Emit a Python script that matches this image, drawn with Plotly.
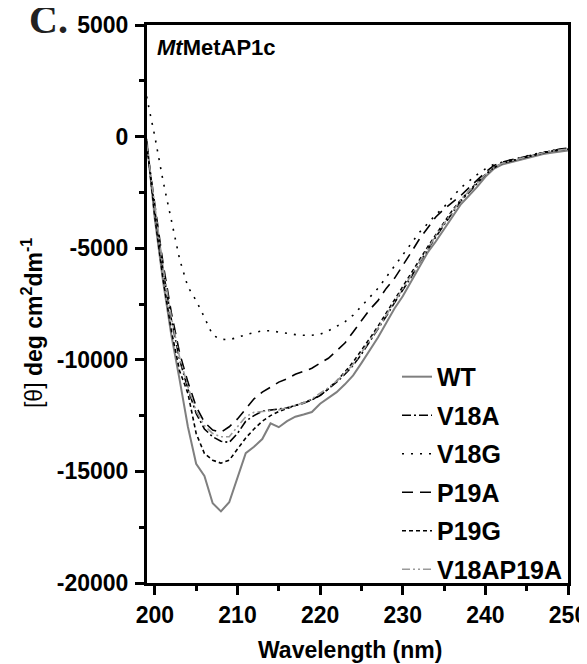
import plotly.graph_objects as go

wavelength = list(range(199, 251))

wt = [-100, -3700, -6500, -8900, -10900, -13000, -14660, -15200, -16430, -16790,
      -16380, -15260, -14180, -13900, -13550, -12850, -13020, -12750, -12550, -12450,
      -12340, -11970, -11700, -11450, -11100, -10700, -10150, -9570, -9000, -8350,
      -7700, -7150, -6500, -5800, -5200, -4700, -4150, -3550, -3050, -2650,
      -2250, -1800, -1450, -1250, -1150, -1050, -950, -850, -780, -720,
      -680, -620]

v18a = [-300, -3300, -6000, -8200, -10000, -11300, -12400, -13100, -13450, -13650,
        -13700, -13300, -12750, -12500, -12300, -12250, -12200, -12150, -12050, -11950,
        -11800, -11600, -11300, -11000, -10650, -10250, -9750, -9200, -8650, -8050,
        -7450, -6900, -6300, -5650, -5050, -4500, -3950, -3400, -2900, -2500,
        -2100, -1700, -1400, -1200, -1100, -1000, -900, -800, -720, -650,
        -600, -560]

v18g = [1800, 0, -2000, -3750, -5500, -6730, -7350, -8100, -8900, -9080,
        -9100, -9000, -8870, -8780, -8700, -8700, -8760, -8820, -8870, -8900,
        -8900, -8850, -8700, -8500, -8300, -8000, -7600, -7200, -6800, -6300,
        -5800, -5300, -4800, -4300, -3900, -3500, -3150, -2700, -2300, -2000,
        -1700, -1450, -1250, -1150, -1050, -970, -880, -780, -700, -620,
        -560, -520]

p19a = [-400, -3000, -5700, -7900, -9700, -11000, -12100, -12800, -13150, -13250,
        -13000, -12650, -12200, -11750, -11450, -11230, -11000, -10850, -10650, -10520,
        -10380, -10150, -9930, -9600, -9250, -8750, -8250, -7750, -7350, -6800,
        -6350, -5800, -5200, -4600, -4100, -3600, -3250, -2950, -2650, -2300,
        -1950, -1600, -1300, -1150, -1050, -970, -880, -780, -700, -620,
        -560, -520]

p19g = [-200, -3600, -6400, -8700, -10500, -11500, -13300, -14200, -14500, -14630,
        -14500, -14000, -13500, -13100, -12750, -12500, -12320, -12180, -12050, -11930,
        -11780, -11600, -11300, -10950, -10550, -10100, -9600, -9050, -8500, -7900,
        -7300, -6700, -6100, -5500, -4950, -4400, -3850, -3300, -2850, -2450,
        -2050, -1700, -1400, -1200, -1100, -1000, -900, -800, -720, -650,
        -600, -560]

v18ap19a = [-300, -3200, -5900, -8100, -9900, -11200, -12300, -12950, -13300, -13450,
            -13450, -13000, -12550, -12350, -12300, -12280, -12250, -12150, -12050, -11930,
            -11750, -11500, -11250, -10950, -10600, -10200, -9700, -9150, -8600, -8000,
            -7400, -6850, -6250, -5600, -5000, -4450, -3900, -3350, -2850, -2450,
            -2050, -1700, -1400, -1200, -1100, -1000, -900, -800, -720, -650,
            -600, -560]

series_names = ["WT", "V18A", "V18G", "P19A", "P19G", "V18AP19A"]

x_ticks = [200, 210, 220, 230, 240, 250]
x_tick_labels = ["200", "210", "220", "230", "240", "250"]
y_ticks = [5000, 0, -5000, -10000, -15000, -20000]
y_tick_labels = ["5000", "0", "-5000", "-10000", "-15000", "-20000"]

styles = [
    dict(color="#7f7f7f", width=2, dash="solid"),
    dict(color="black", width=1.6, dash="9px,3px,2px,3px"),
    dict(color="black", width=1.6, dash="2px,7px"),
    dict(color="black", width=1.6, dash="11px,7px"),
    dict(color="black", width=1.6, dash="4px,3px"),
    dict(color="#9a9a9a", width=1.6, dash="8px,3px,2px,3px,2px,3px"),
]

FONT = "Liberation Sans, Arial, sans-serif"

fig = go.Figure()
for name, ys, st in zip(series_names, [wt, v18a, v18g, p19a, p19g, v18ap19a], styles):
    fig.add_trace(go.Scatter(x=wavelength, y=ys, mode="lines", name=name,
                             legendgroup=name, line=st))

axis_common = dict(
    showline=True, linewidth=3, linecolor="black", mirror=True,
    ticks="outside", ticklen=9, tickwidth=3, tickcolor="black",
    showgrid=False, zeroline=False, automargin=False,
    ticklabeloverflow="allow",
    tickfont=dict(family=FONT, size=23, color="black", weight="bold"),
)

fig.update_xaxes(range=[199.05, 250], tickvals=x_ticks, ticktext=x_tick_labels,
                 minor=dict(ticks="outside", ticklen=5, tickwidth=3, tickcolor="black",
                            dtick=5, tick0=200, showgrid=False),
                 **axis_common)
fig.update_yaxes(range=[-20000, 5000], tickvals=y_ticks, ticktext=y_tick_labels,
                 ticklabelstandoff=2,
                 minor=dict(ticks="outside", ticklen=5, tickwidth=3, tickcolor="black",
                            dtick=2500, tick0=0, showgrid=False),
                 **axis_common)

fig.update_layout(
    width=579, height=656,
    margin=dict(l=139, r=19, t=17, b=81),
    plot_bgcolor="white", paper_bgcolor="white",
    font=dict(family=FONT, color="black"),
    legend=dict(x=1, xanchor="right", y=-0.016, yanchor="bottom",
                bgcolor="rgba(0,0,0,0)", traceorder="grouped", tracegroupgap=3,
                font=dict(family=FONT, size=25, color="black", weight="bold")),
    annotations=[
        dict(text="<b>C.</b>", xref="paper", yref="paper", x=-0.285, y=1.01,
             xanchor="left", yanchor="middle", showarrow=False,
             font=dict(family="Liberation Serif, Times New Roman, serif", size=40, color="#222")),
        dict(text="<b><i>Mt</i>MetAP1c</b>", xref="paper", yref="paper", x=0.02, y=0.959,
             xanchor="left", yanchor="middle", showarrow=False,
             font=dict(family=FONT, size=22, color="black")),
        dict(text="[θ] <b>deg cm<sup>2</sup>dm<sup>-1</sup></b>", xref="paper", yref="paper",
             x=-0.273, y=0.466, xanchor="center", yanchor="middle", textangle=-90,
             showarrow=False, font=dict(family=FONT, size=23, color="black")),
        dict(text="<b>Wavelength (nm)</b>", xref="paper", yref="paper", x=0.482, y=-0.12,
             xanchor="center", yanchor="middle", showarrow=False,
             font=dict(family=FONT, size=23, color="black")),
    ],
)

fig.write_html("out.html")
